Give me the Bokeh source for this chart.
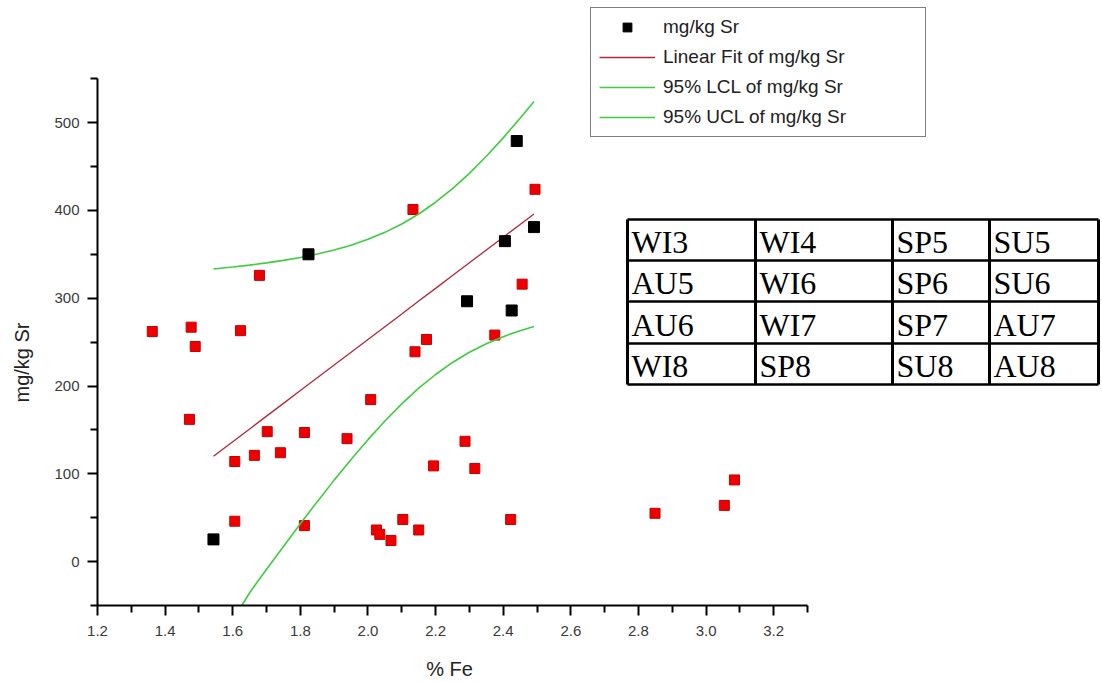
from bokeh.plotting import figure
from bokeh.models import (LinearAxis, FixedTicker, PrintfTickFormatter, Legend,
                          LegendItem, Label, Range1d)
from bokeh.core.properties import value
from bokeh.embed import file_html
from bokeh.resources import INLINE
import math

# ---------------- data ----------------
fe_black = [1.543, 1.824, 2.293, 2.405, 2.440, 2.425, 2.491]
sr_black = [25.3, 350, 296.5, 365, 479, 286, 381]

fe_red = [1.362, 1.477, 1.489, 1.472, 1.623, 1.679, 1.606, 1.664, 1.702, 1.741,
          1.606, 1.812, 1.812, 1.938, 2.008, 2.025, 2.035, 2.068, 2.103, 2.150,
          2.139, 2.173, 2.194, 2.287, 2.316, 2.375, 2.422, 2.133, 2.456, 2.494,
          2.849, 3.054, 3.084]
sr_red = [262, 267, 245, 162, 263, 326, 114, 121, 148, 124,
          46, 147, 41, 140, 184.5, 36, 31, 24, 48, 36,
          239, 253, 109, 137, 106, 258, 48, 401, 316, 424,
          55, 64, 93]

fit_x = [1.543, 1.60, 1.65, 1.70, 1.75, 1.80, 1.85, 1.90, 1.95, 2.00, 2.05,
         2.10, 2.15, 2.20, 2.25, 2.30, 2.35, 2.40, 2.45, 2.491]
fit_y = [120.0, 136.6, 151.1, 165.7, 180.2, 194.8, 209.3, 223.9, 238.4, 253.0,
         267.6, 282.1, 296.7, 311.2, 325.8, 340.3, 354.9, 369.4, 384.0, 395.9]
ucl_y = [333.3, 335.5, 337.7, 340.2, 343.1, 346.4, 350.3, 355.0, 360.4, 367.1,
         375.0, 384.5, 395.9, 409.3, 424.8, 442.2, 461.7, 482.6, 505.0, 524.1]
# the lower band is visible only from where it leaves the bottom axis
lcl_x = [1.627, 1.65, 1.70, 1.75, 1.80, 1.85, 1.90, 1.95, 2.00, 2.05,
         2.10, 2.15, 2.20, 2.25, 2.30, 2.35, 2.40, 2.45, 2.491]
lcl_y = [-50.0, -35.5, -8.8, 17.3, 43.2, 68.3, 92.8, 116.4, 138.9,
         160.2, 179.7, 197.5, 213.1, 226.8, 238.4, 248.1, 256.2, 263.0, 267.7]

x_ticks = [1.2, 1.4, 1.6, 1.8, 2.0, 2.2, 2.4, 2.6, 2.8, 3.0, 3.2]
x_minor = [1.3, 1.5, 1.7, 1.9, 2.1, 2.3, 2.5, 2.7, 2.9, 3.1, 3.3]
y_ticks = [0, 100, 200, 300, 400, 500]
y_minor = [-50, 50, 150, 250, 350, 450, 550]

legend_labels = ["mg/kg Sr", "Linear Fit of mg/kg Sr",
                 "95% LCL of mg/kg Sr", "95% UCL of mg/kg Sr"]
x_title = "% Fe"
y_title = "mg/kg Sr"

table_rows = [["WI3", "WI4", "SP5", "SU5"],
              ["AU5", "WI6", "SP6", "SU6"],
              ["AU6", "WI7", "SP7", "AU7"],
              ["WI8", "SP8", "SU8", "AU8"]]

# ---------------- layout helpers (canvas pixels -> data) ----------------
W, H = 1100, 680
AX_L = 97            # canvas x of the y axis (x = 1.2)
AX_B = 605           # canvas y of the x axis (y = -50)
XPX = 338.1          # px per unit %Fe
YPX = 0.878          # px per mg/kg
X0, Y0 = 1.2, -50.0


def dx(px):
    return X0 + (px - AX_L) / XPX


def dy(py):
    return Y0 + (AX_B - py) / YPX


# the frame fills the whole canvas; the axes sit at fixed data locations
p = figure(width=W, height=H, output_backend="svg", toolbar_location=None,
           x_range=Range1d(dx(0), dx(W)), y_range=Range1d(dy(H), dy(0)),
           x_axis_type=None, y_axis_type=None,
           min_border=0, min_border_left=0, min_border_right=0,
           min_border_top=0, min_border_bottom=0)
p.outline_line_color = None
p.grid.visible = False
p.background_fill_color = "white"
p.border_fill_color = "white"

SANS = "Liberation Sans"

xaxis = LinearAxis(bounds=(1.2, 3.3), fixed_location=-50,
                   ticker=FixedTicker(ticks=x_ticks, minor_ticks=x_minor),
                   formatter=PrintfTickFormatter(format="%.1f"))
yaxis = LinearAxis(bounds=(-50, 550), fixed_location=1.2,
                   ticker=FixedTicker(ticks=y_ticks, minor_ticks=y_minor),
                   formatter=PrintfTickFormatter(format="%d"))
for ax in (xaxis, yaxis):
    ax.axis_line_color = "black"
    ax.axis_line_width = 2
    ax.major_tick_line_color = "black"
    ax.major_tick_line_width = 2
    ax.minor_tick_line_color = "black"
    ax.minor_tick_line_width = 2
    ax.major_tick_in = 0
    ax.major_tick_out = 10
    ax.minor_tick_in = 0
    ax.minor_tick_out = 7
    ax.major_label_text_font = SANS
    ax.major_label_text_font_size = "15px"
    ax.major_label_text_color = "#3a3a3a"
xaxis.major_label_standoff = 10
yaxis.major_label_standoff = 8
p.add_layout(xaxis, "below")
p.add_layout(yaxis, "left")

# ---------------- data glyphs ----------------
red = p.scatter(fe_red, sr_red, marker="square", size=10,
                fill_color="#ee0000", line_color="#c80000", line_width=1)
fit = p.line(fit_x, fit_y, line_color="#b0283a", line_width=1.3)
lcl = p.line(lcl_x, lcl_y, line_color="#3fcc3f", line_width=1.6)
ucl = p.line(fit_x, ucl_y, line_color="#3fcc3f", line_width=1.6)
blk = p.scatter(fe_black, sr_black, marker="square", size=11,
                fill_color="black", line_color="black")

# ---------------- axis titles ----------------
p.add_layout(Label(x=dx(449), y=dy(668), text=x_title,
                   text_font=SANS, text_font_size="20px",
                   text_color="#222222", text_align="center",
                   text_baseline="middle"))
p.add_layout(Label(x=dx(21), y=dy(362), text=y_title, angle=math.pi / 2,
                   text_font=SANS, text_font_size="20px",
                   text_color="#222222", text_align="center",
                   text_baseline="middle"))

# ---------------- legend ----------------
legend = Legend(items=[LegendItem(label=legend_labels[0], renderers=[blk]),
                       LegendItem(label=legend_labels[1], renderers=[fit]),
                       LegendItem(label=legend_labels[2], renderers=[lcl]),
                       LegendItem(label=legend_labels[3], renderers=[ucl])],
                location=(590, H - 137),
                padding=8, spacing=8, margin=0,
                glyph_width=56, glyph_height=22, label_height=22,
                label_width=254, label_standoff=8,
                label_text_font=SANS, label_text_font_size="19px",
                label_text_color="#222222",
                border_line_color="black", border_line_width=1.5,
                background_fill_color="white", background_fill_alpha=1.0)
p.add_layout(legend)

# ---------------- table ----------------
col_px = [627, 755, 892, 989, W - 2]
row_px = [219, 260, 301, 343, 384]
tx0, tx1 = dx(col_px[0]), dx(col_px[-1])
ty0, ty1 = dy(row_px[0]), dy(row_px[-1])
p.segment(x0=[dx(c) for c in col_px], y0=[ty0] * len(col_px),
          x1=[dx(c) for c in col_px], y1=[ty1] * len(col_px),
          line_color="black", line_width=3)
p.segment(x0=[tx0] * len(row_px), y0=[dy(r) for r in row_px],
          x1=[tx1] * len(row_px), y1=[dy(r) for r in row_px],
          line_color="black", line_width=2.5)

cell_x, cell_y, cell_t = [], [], []
for ri, row in enumerate(table_rows):
    for ci, txt in enumerate(row):
        cell_x.append(dx(col_px[ci] + 4))
        cell_y.append(dy((row_px[ri] + row_px[ri + 1]) / 2 + 2))
        cell_t.append(txt)
p.text(x=cell_x, y=cell_y, text=cell_t, text_font=value("Liberation Serif"),
       text_font_size="32px", text_color="black", text_align="left",
       text_baseline="middle")

open("out.html", "w").write(file_html(p, INLINE))
